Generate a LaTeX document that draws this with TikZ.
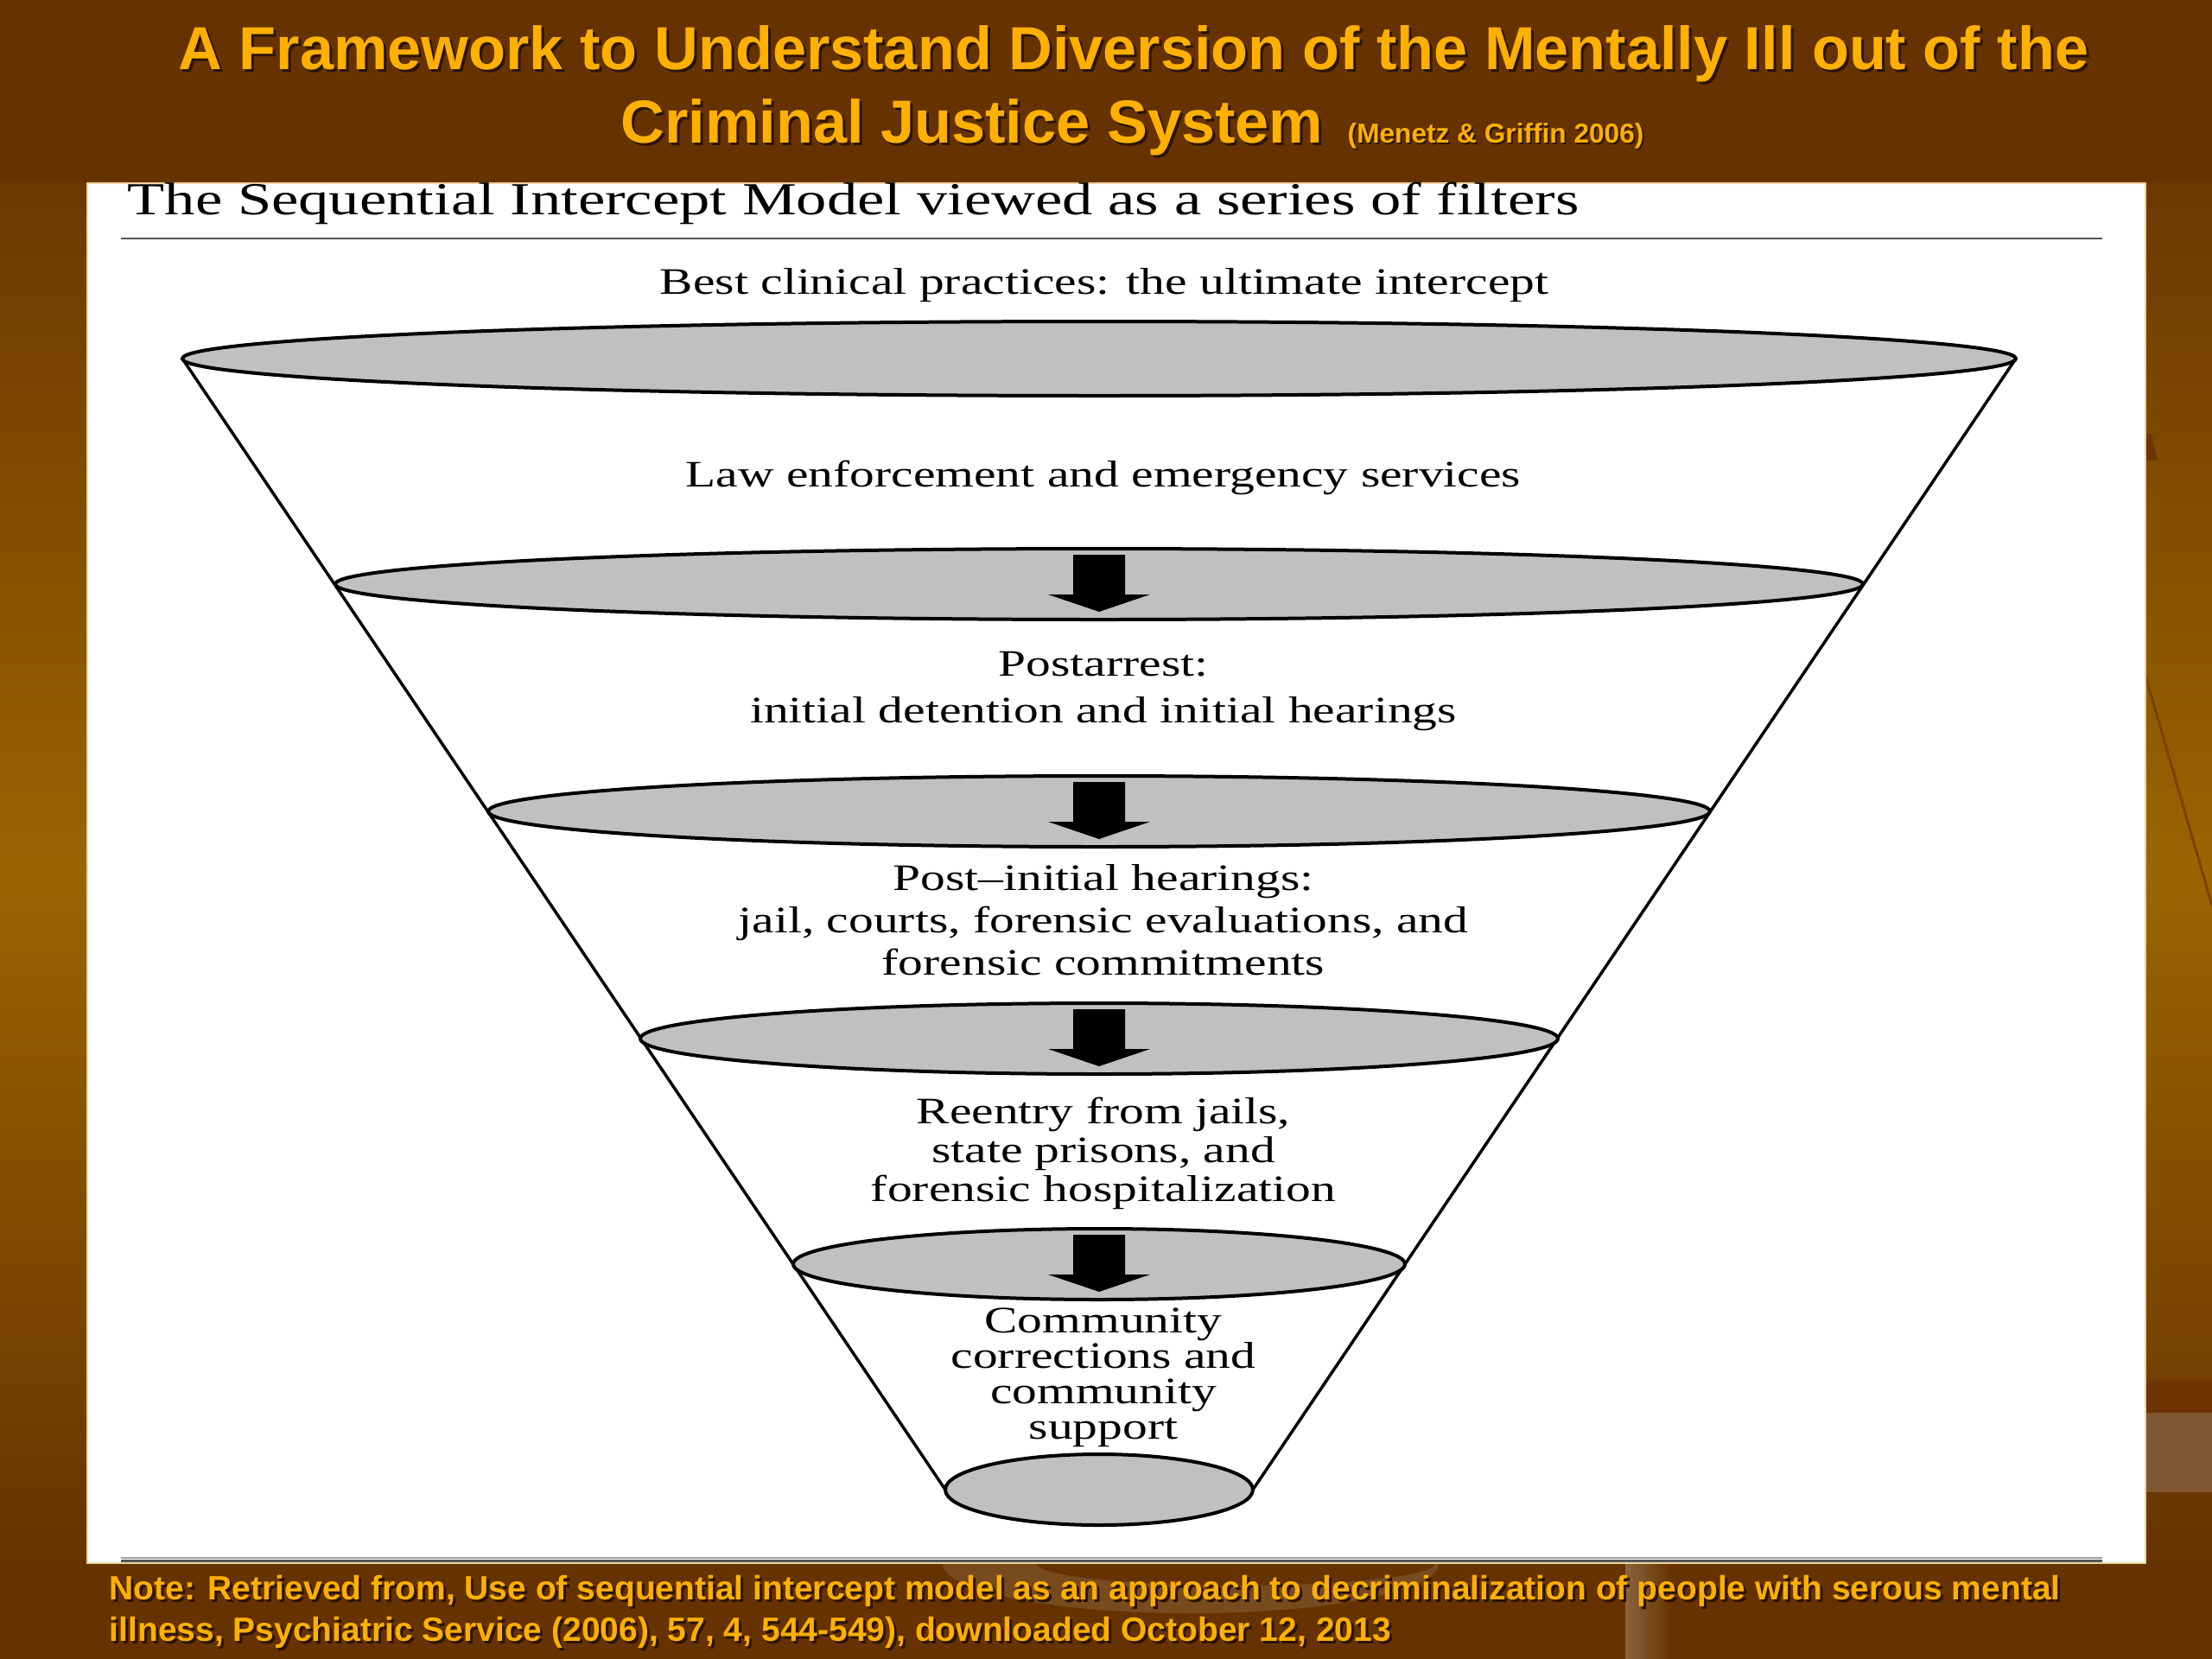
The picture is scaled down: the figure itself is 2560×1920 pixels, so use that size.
\documentclass[tikz,border=0pt]{standalone}
\usepackage{fontspec}
\setmainfont{Liberation Serif}
\newfontfamily\figfont{Liberation Serif}[FakeStretch=1.33]
\newfontfamily\arialfont{Liberation Sans}
\usetikzlibrary{shapes.geometric}
\pgfdeclarelayer{bglayer}
\pgfdeclarelayer{linelayer}
\pgfsetlayers{bglayer,linelayer,main}
\definecolor{bgdark}{HTML}{663300}
\definecolor{bgtop}{HTML}{6C3900}
\definecolor{bgmid}{HTML}{9A6500}
\definecolor{goldtxt}{HTML}{FFB000}
\definecolor{shadowc}{HTML}{2B1400}
\definecolor{filtergray}{HTML}{C0C0C0}
\definecolor{paneledge}{HTML}{EBD3A0}
\definecolor{decodark}{HTML}{6E3404}
\definecolor{decoline}{HTML}{7A4200}
\definecolor{decolight}{HTML}{7F5730}
\definecolor{rulegray}{HTML}{555555}
\definecolor{rulelight}{HTML}{A0A0A0}
\newcommand{\tightlines}{\lineskiplimit=-30pt\relax}
\tikzset{
  filter/.style={ellipse, draw=black, line width=0.4mm, fill=filtergray, inner sep=0pt, outer sep=0pt},
  funnelline/.style={draw=black, line width=0.35mm},
  figlabel/.style={font={\figfont\fontsize{12.3}{#1}\selectfont\tightlines}, align=center, inner sep=0pt, text=black},
  titletext/.style={font=\arialfont\bfseries\fontsize{20}{24}\selectfont, inner sep=0pt, text=goldtxt},
  titleshadow/.style={font=\arialfont\bfseries\fontsize{20}{24}\selectfont, inner sep=0pt, text=shadowc},
  smalltitle/.style={font=\arialfont\bfseries\fontsize{9}{11}\selectfont, inner sep=0pt, text=goldtxt},
  smallshadow/.style={font=\arialfont\bfseries\fontsize{9}{11}\selectfont, inner sep=0pt, text=shadowc},
  notetext/.style={font=\arialfont\bfseries\fontsize{11.1}{13.4}\selectfont, inner sep=0pt, align=left, text=goldtxt},
  noteshadow/.style={font=\arialfont\bfseries\fontsize{11.1}{13.4}\selectfont, inner sep=0pt, align=left, text=shadowc},
  downarrow/.pic={\fill[black] (-30,-34) -- (30,-34) -- (30,12) -- (59,12) -- (0,32) -- (-59,12) -- (-30,12) -- cycle;}
}
\begin{document}
\begin{tikzpicture}[x=0.1mm,y=-0.1mm]
\useasboundingbox (0,0) rectangle (2560,1920);
\begin{pgfonlayer}{bglayer}
  \fill[bgdark] (0,0) rectangle (2560,1920);
  \shade[top color=bgtop, bottom color=bgdark, middle color=bgmid] (0,212) rectangle (2560,1810);
  % right-hand decorations of the slide template
  \fill[decodark] (2483,502) -- (2490,502) -- (2497,533) -- (2483,533) -- cycle;
  \draw[decoline, line width=0.3mm] (2483,782) -- (2560,1048);
  \fill[decodark] (2483,1598) rectangle (2560,1635);
  \fill[decolight] (2483,1635) rectangle (2560,1727);
  % bottom decorations
  \fill[white, opacity=0.12, even odd rule]
    (1091,1810) arc[start angle=180, end angle=0, x radius=287, y radius=57] -- cycle
    (1200,1810) arc[start angle=180, end angle=0, x radius=230, y radius=25] -- cycle;
  \shade[left color=white!40!bgdark, right color=bgdark, opacity=0.6] (1881,1810) rectangle (1935,1920);
  % white panel
  \fill[white] (101,212) rectangle (2483,1809);
  \draw[paneledge, line width=0.15mm] (101,212) rectangle (2483,1809);
\end{pgfonlayer}

% title
\node[titleshadow, anchor=base] (t1s) at (1315,83) {A Framework to Understand Diversion of the Mentally Ill out of the};
\node[titletext, anchor=base] (t1) at (1312,80) {A Framework to Understand Diversion of the Mentally Ill out of the};
\node[titleshadow, anchor=base west] (t2s) at (721,168) {Criminal Justice System};
\node[titletext, anchor=base west] (t2) at (718,165) {Criminal Justice System};
\node[smallshadow, anchor=base west] (t3s) at (1561,167) {(Menetz \& Griffin 2006)};
\node[smalltitle, anchor=base west] (t3) at (1559,165) {(Menetz \& Griffin 2006)};

% figure heading
\node[font=\figfont\fontsize{15.1}{18}\selectfont, anchor=base west, inner sep=0pt] (sub) at (147,248) {The Sequential Intercept Model viewed as a series of filters};
\draw[rulegray, line width=0.2mm] (140,276) -- (2433,276);
\draw[rulelight, line width=0.2mm] (140,1803) -- (2433,1803);
\draw[rulegray, line width=0.3mm] (140,1806) -- (2433,1806);

% filters
\node[filter, minimum width=212.2mm, minimum height=8.6mm] (e1) at (1272,415) {};
\node[filter, minimum width=176.8mm, minimum height=8.2mm] (e2) at (1272,676) {};
\node[filter, minimum width=141.4mm, minimum height=8.2mm] (e3) at (1272,939) {};
\node[filter, minimum width=106.2mm, minimum height=8.2mm] (e4) at (1272,1202) {};
\node[filter, minimum width=70.8mm, minimum height=8.2mm] (e5) at (1272,1463) {};
\node[filter, minimum width=35.6mm, minimum height=8.2mm] (e6) at (1272,1724) {};

\begin{pgfonlayer}{linelayer}
  \draw[funnelline] (e1.west) -- (e6.west);
  \draw[funnelline] (e1.east) -- (e6.east);
\end{pgfonlayer}

\pic at (e2.center) {downarrow};
\pic at (e3.center) {downarrow};
\pic at (e4.center) {downarrow};
\pic at (e5.center) {downarrow};

% labels
\node[figlabel=18, anchor=base] (best) at (1278,340) {Best clinical practices: the ultimate intercept};
\node[figlabel=18, anchor=base] (law) at (1277,563) {Law enforcement and emergency services};
\node[figlabel=15.1] (post) at (1277,800) {Postarrest:\\initial detention and initial hearings};
\node[figlabel=13.9] (pih) at (1277,1065) {Post–initial hearings:\\jail, courts, forensic evaluations, and\\forensic commitments};
\node[figlabel=12.8] (reentry) at (1277,1335) {Reentry from jails,\\state prisons, and\\forensic hospitalization};
\node[figlabel=11.7] (comm) at (1277,1594) {Community\\corrections and\\community\\support};

% note
\node[noteshadow, anchor=north west] (ns) at (129,1826) {Note: Retrieved from, Use of sequential intercept model as an approach to decriminalization of people with serous mental\\illness, Psychiatric Service (2006), 57, 4, 544-549), downloaded October 12, 2013};
\node[notetext, anchor=north west] (n) at (126,1823) {Note: Retrieved from, Use of sequential intercept model as an approach to decriminalization of people with serous mental\\illness, Psychiatric Service (2006), 57, 4, 544-549), downloaded October 12, 2013};
\end{tikzpicture}
\end{document}
